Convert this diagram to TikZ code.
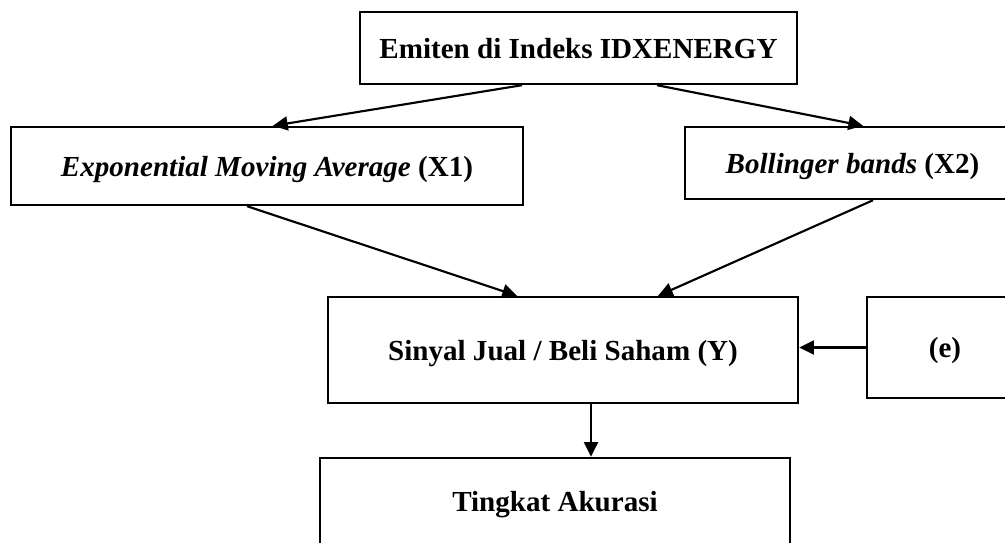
\documentclass[tikz,border=0pt]{standalone}
\usepackage{fontspec}
\setmainfont{Liberation Serif}
\usetikzlibrary{arrows.meta,positioning}
\tikzset{>/.tip={Triangle[length=11pt,width=10.5pt]}}
\tikzset{blok/.style={draw,line width=1.8pt,inner sep=0pt,text depth=0pt,align=center,font=\fontsize{21.8}{24}\selectfont\bfseries}}

\begin{document}
\begin{tikzpicture}[x=0.75pt,y=-0.75pt,line width=1.6pt]
        \clip (0,0) rectangle (1005,542);
        \node(emt)[blok,minimum width=437*0.75pt,minimum height=72*0.75pt] at (578.5,48){Emiten di Indeks IDXENERGY};
        \node(ema)[blok,minimum width=512*0.75pt,minimum height=78*0.75pt] at (267,166){\textit{Exponential Moving Average} (X1)};
        \node(bb)[blok,minimum width=335*0.75pt,minimum height=72*0.75pt] at (852.5,163){\textit{Bollinger bands} (X2)};
        \node(sig)[blok,minimum width=470*0.75pt,minimum height=106*0.75pt] at (563,350){Sinyal Jual / Beli Saham (Y)};
        \node(err)[blok,minimum width=156*0.75pt,minimum height=101*0.75pt] at (945,347.5){(e)};
        \node(acc)[blok,minimum width=470*0.75pt,minimum height=87*0.75pt] at (555,501.5){Tingkat Akurasi};
        \path[->]
        ([xshift=-42.4pt]emt.south) edge ([xshift=4.5pt]ema.north)
        ([xshift=58.9pt]emt.south) edge ([xshift=7.9pt]bb.north)
        ([xshift=-15pt]ema.south) edge ([xshift=-34.5pt]sig.north)
        ([xshift=15.4pt]bb.south) edge ([xshift=71.3pt]sig.north)
        (err.west) edge (err.west -| sig.east)
        ([xshift=21pt]sig.south) edge ([xshift=21pt]sig.south |- acc.north);
      \end{tikzpicture}
\end{document}
